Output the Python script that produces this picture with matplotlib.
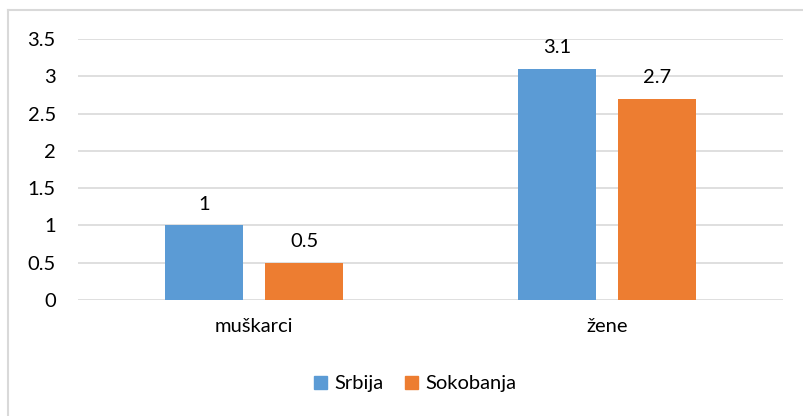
import numpy as np
import matplotlib.pyplot as plt
from matplotlib.lines import Line2D
from matplotlib.patches import Patch

plt.rcParams['font.family'] = ['Lato', 'DejaVu Sans']

categories = ['muškarci', 'žene']
srbija = [1, 3.1]
sokobanja = [0.5, 2.7]
series_names = ['Srbija', 'Sokobanja']
yticks = [0, 0.5, 1, 1.5, 2, 2.5, 3, 3.5]

blue = '#5B9BD5'
orange = '#ED7D31'
grid = '#D9D9D9'
fs = 14.5

fig = plt.figure(figsize=(8.04, 4.16), dpi=100)
ax = fig.add_axes([78 / 804, 1 - 300 / 416, 705 / 804, 261 / 416])

x = np.arange(len(categories))
w = 0.222
gap = 0.062
b1 = ax.bar(x - (w + gap) / 2, srbija, w, color=blue, zorder=3)
b2 = ax.bar(x + (w + gap) / 2, sokobanja, w, color=orange, zorder=3)

for bars in (b1, b2):
    for r in bars:
        ax.annotate(f'{r.get_height():g}', (r.get_x() + r.get_width() / 2, r.get_height()),
                    xytext=(0, 9), textcoords='offset points', ha='center', va='bottom',
                    fontsize=fs, color='black')

ax.set_xlim(-0.5, 1.5)
ax.set_ylim(0, 3.5)
ax.set_yticks(yticks)
ax.set_yticklabels([f'{t:g}' for t in yticks], fontsize=fs)
ax.set_xticks(x)
ax.set_xticklabels(categories, fontsize=fs)
ax.tick_params(axis='y', length=0, pad=16)
ax.tick_params(axis='x', length=0, pad=13)
ax.grid(axis='y', color=grid, linewidth=1.2, zorder=0)
for s in ax.spines.values():
    s.set_visible(False)

handles = [Patch(color=blue), Patch(color=orange)]
fig.legend(handles, series_names, loc='center', bbox_to_anchor=(415 / 804, 1 - 384 / 416),
           ncol=2, frameon=False, fontsize=fs, handlelength=0.65, handleheight=0.65,
           handletextpad=0.35, columnspacing=1.1)

# chart border (left and top edges visible)
fig.add_artist(Line2D([8 / 804, 8 / 804], [0, 1 - 10 / 416], transform=fig.transFigure,
                      color=grid, linewidth=1.5))
fig.add_artist(Line2D([8 / 804, 1], [1 - 10 / 416, 1 - 10 / 416], transform=fig.transFigure,
                      color=grid, linewidth=1.5))

fig.savefig('out.png', dpi=100)
